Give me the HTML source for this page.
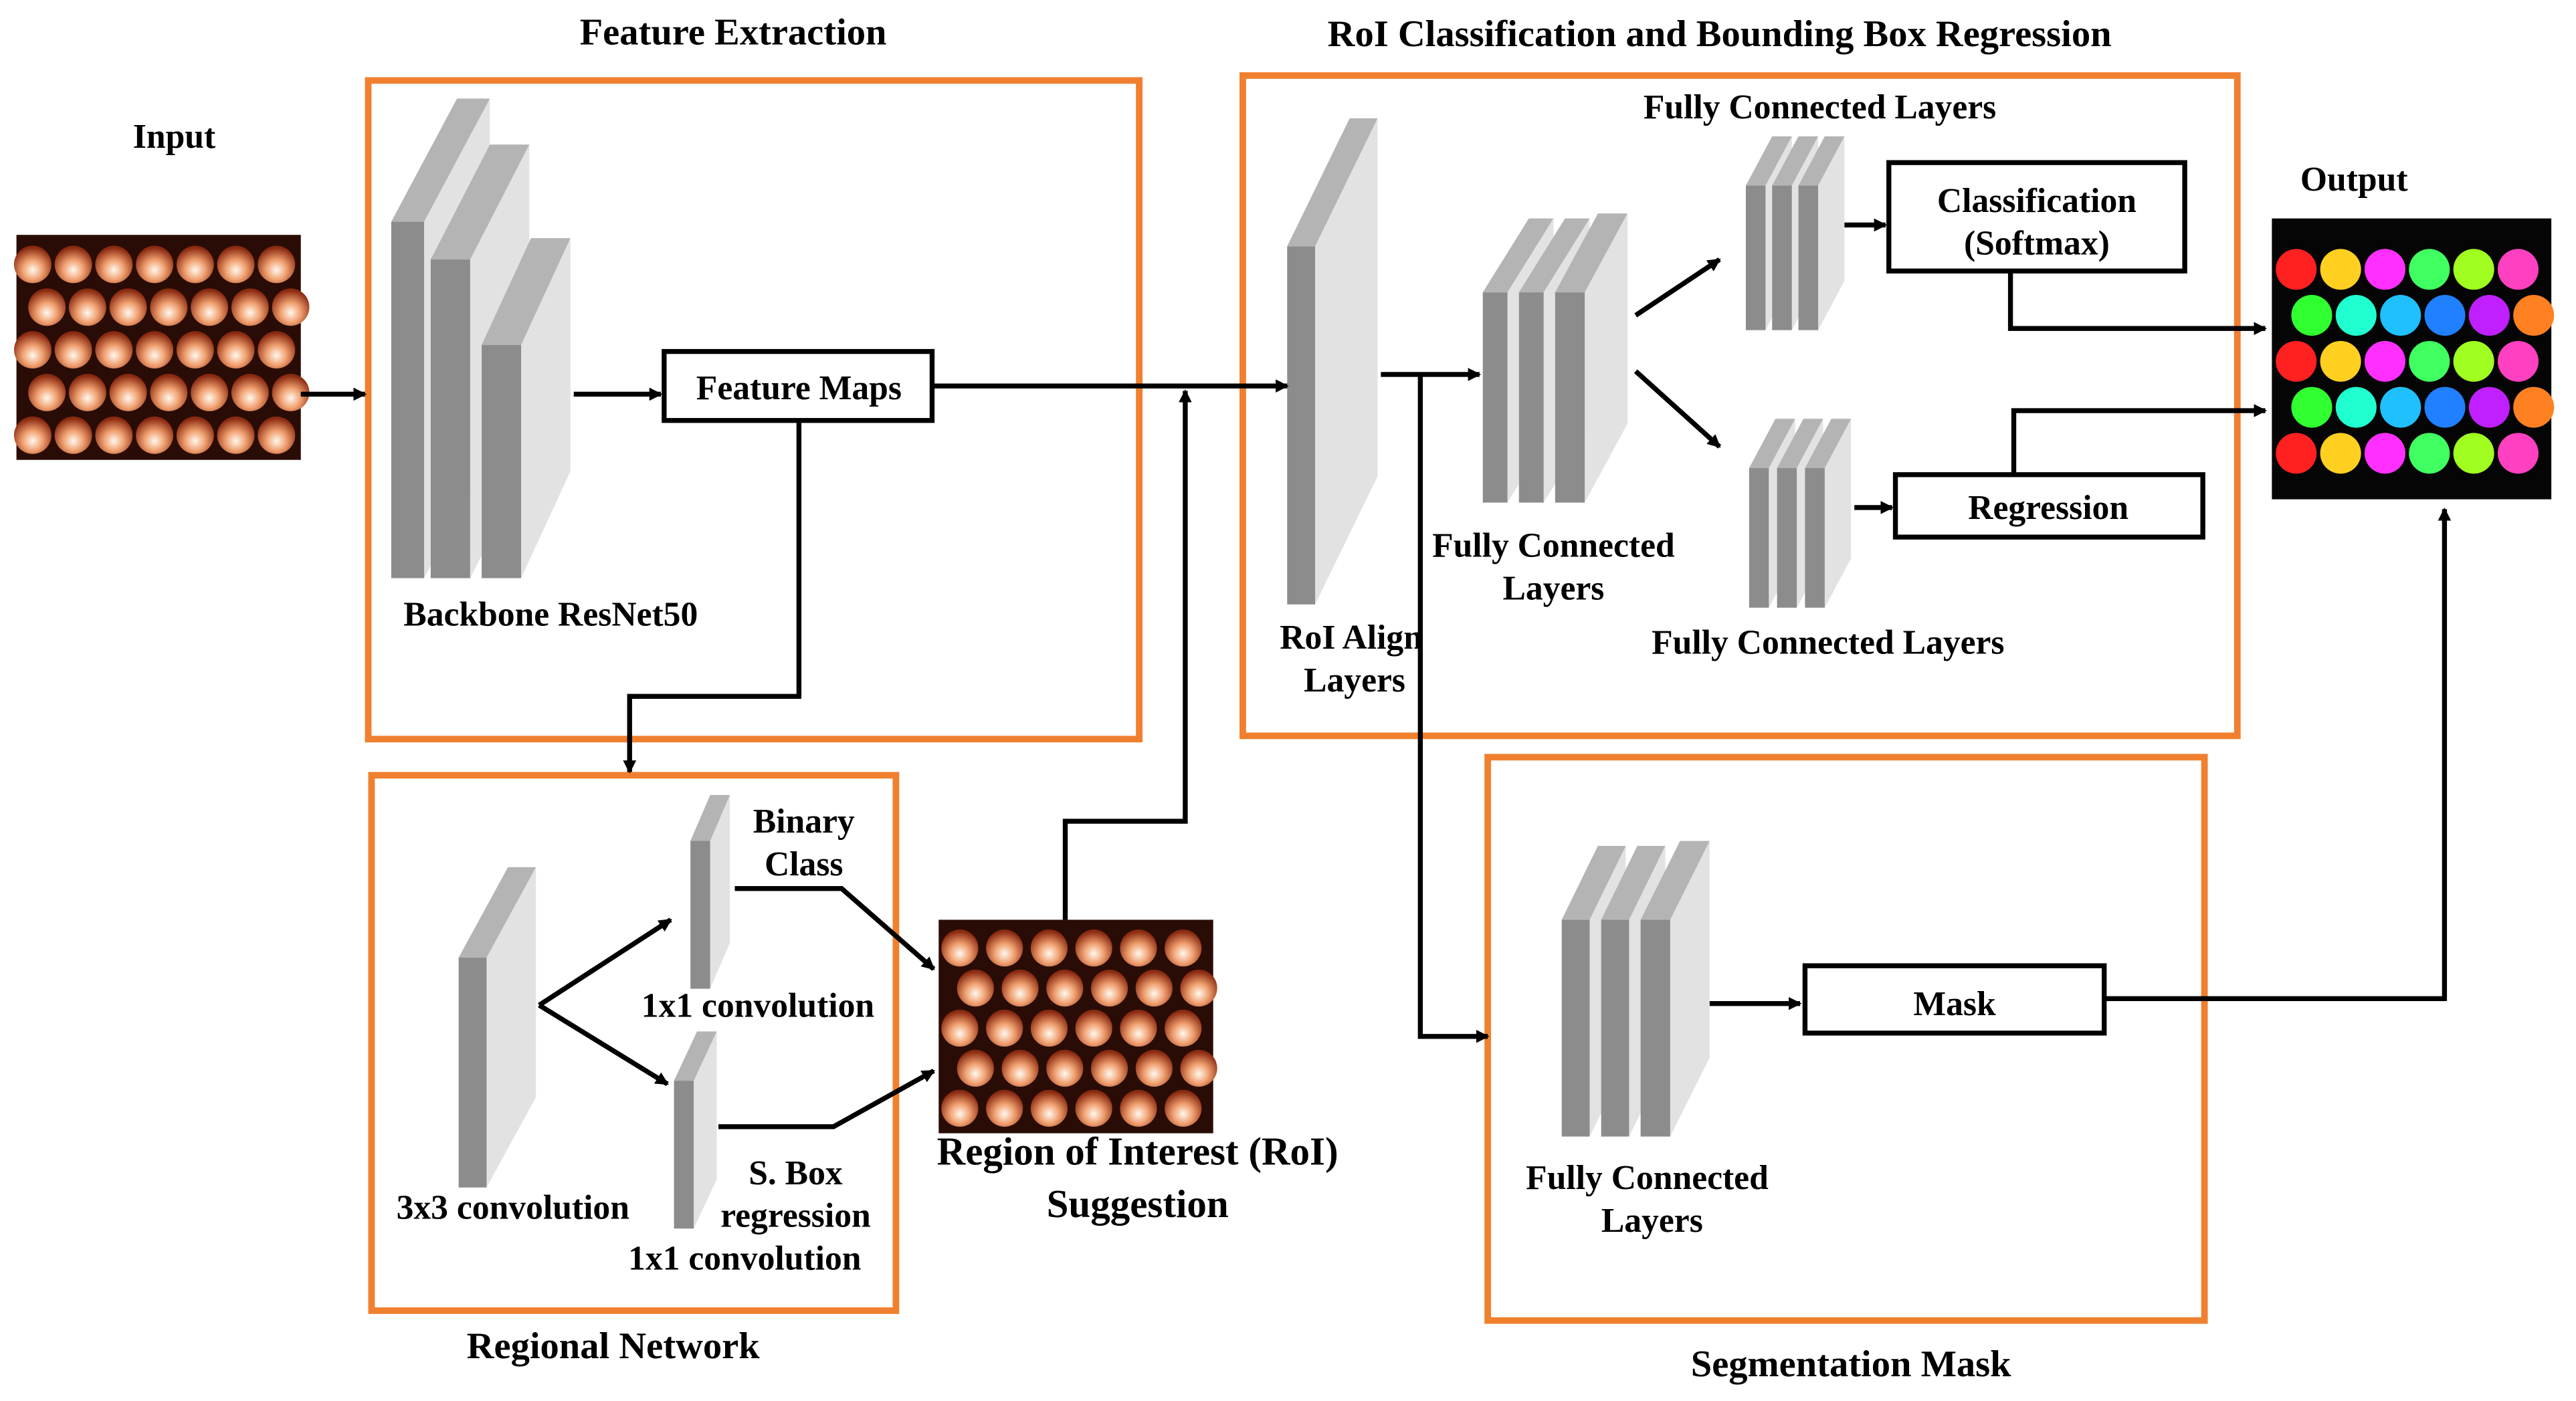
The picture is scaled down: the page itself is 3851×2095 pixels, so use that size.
<!DOCTYPE html>
<html><head><meta charset="utf-8"><style>
html,body{margin:0;padding:0;background:#fff;}
svg{display:block;}
text{font-family:"Liberation Serif",serif;font-weight:bold;fill:#000;}
</style></head><body>
<svg id="s" width="3851" height="2095" viewBox="0 0 1567 853" preserveAspectRatio="none" xmlns="http://www.w3.org/2000/svg">
<defs>
<marker id="a" markerWidth="8" markerHeight="8" refX="7" refY="4" orient="auto" markerUnits="userSpaceOnUse"><path d="M0,0 L8,4 L0,8 z" fill="#000"/></marker>
<radialGradient id="egg" cx="50%" cy="65%" r="60%"><stop offset="0" stop-color="#fff8ee"/><stop offset="0.45" stop-color="#f0a070"/><stop offset="1" stop-color="#8a2a10"/></radialGradient>
</defs>
<g fill="none" stroke="#f0802f" stroke-width="4">
<rect x="224" y="49" width="469" height="401"/>
<rect x="756" y="46" width="605" height="402"/>
<rect x="226" y="472" width="319" height="326"/>
<rect x="905" y="461" width="436" height="343"/>
</g>
<g id="slabs"></g>
<rect x="10" y="143" width="173" height="137" fill="#2a0c06"/><g id="in"></g>
<rect x="571" y="560" width="167" height="130" fill="#2a0c06"/><g id="roi"></g>
<rect x="1382" y="133" width="170" height="171" fill="#050505"/><g id="out"></g>
<g fill="#fff" stroke="#000" stroke-width="3">
<rect x="404" y="214" width="163" height="42"/>
<rect x="1149" y="99" width="180" height="66"/>
<rect x="1153" y="289" width="187" height="38"/>
<rect x="1098" y="588" width="182" height="41"/>
</g>
<g fill="none" stroke="#000" stroke-width="3" marker-end="url(#a)">
<path d="M183,240 H222"/><path d="M349,240 H402"/><path d="M567,235 H783"/>
<path d="M486,256 V424 H383 V470"/><path d="M648,560 V500 H721 V238"/>
<path d="M840,228 H900"/><path d="M864,228 V631 H905"/>
<path d="M995,192 L1046,158"/><path d="M995,226 L1046,272"/>
<path d="M1122,137 H1147"/><path d="M1128,309 H1151"/>
<path d="M1223,165 V200 H1378"/><path d="M1225,289 V250 H1378"/>
<path d="M1040,611 H1095"/><path d="M1280,608 H1487 V310"/>
<path d="M328,612 L408,560"/><path d="M328,612 L406,660"/>
<path d="M447,541 H512 L568,590"/><path d="M437,686 H507 L568,652"/>
</g>
<g font-size="21" text-anchor="middle">
<text x="446" y="27" font-size="23">Feature Extraction</text>
<text x="1046" y="28" font-size="23">RoI Classification and Bounding Box Regression</text>
<text x="106" y="90">Input</text>
<text x="1432" y="116">Output</text>
<text x="486" y="243">Feature Maps</text>
<text x="335" y="381">Backbone ResNet50</text>
<text x="1107" y="72">Fully Connected Layers</text>
<text x="1239" y="129">Classification</text>
<text x="1239" y="155">(Softmax)</text>
<text x="1246" y="316">Regression</text>
<text x="945" y="339">Fully Connected</text>
<text x="945" y="365">Layers</text>
<text x="1112" y="398">Fully Connected Layers</text>
<text x="822" y="395">RoI Align</text>
<text x="824" y="421">Layers</text>
<text x="489" y="507">Binary</text>
<text x="489" y="533">Class</text>
<text x="461" y="619">1x1 convolution</text>
<text x="312" y="742">3x3 convolution</text>
<text x="484" y="721">S. Box</text>
<text x="484" y="747">regression</text>
<text x="453" y="773">1x1 convolution</text>
<text x="692" y="709" font-size="24">Region of Interest (RoI)</text>
<text x="692" y="741" font-size="24">Suggestion</text>
<text x="373" y="827" font-size="23">Regional Network</text>
<text x="1189" y="618">Mask</text>
<text x="1002" y="724">Fully Connected</text>
<text x="1005" y="750">Layers</text>
<text x="1126" y="838" font-size="23">Segmentation Mask</text>
</g>
</svg>
<script>
var NS="http://www.w3.org/2000/svg";
function el(p,t,a){var e=document.createElementNS(NS,t);for(var k in a)e.setAttribute(k,a[k]);p.appendChild(e);return e;}
var g=document.getElementById("slabs");
var S=[[238,135,20,217,40,75],[262,158,24,194,36,70],[293,210,24,142,30,65],[783,150,17,218,38,78],
[902,178,15,128,28,45],[924,178,15,128,28,45],[946,178,18,128,26,48],
[1062,113,12,88,16,30],[1078,113,12,88,16,30],[1094,113,12,88,16,30],
[1064,285,12,85,16,30],[1081,285,12,85,16,30],[1098,285,12,85,16,30],
[950,560,17,132,22,45],[974,560,17,132,22,45],[998,560,18,132,24,48],
[279,583,17,140,30,55],[420,512,12,90,12,28],[410,658,12,90,14,30]];
S.forEach(function(s){var x=s[0],y=s[1],w=s[2],h=s[3],dx=s[4],dy=s[5];
el(g,"polygon",{points:[x+w,y,x+w+dx,y-dy,x+w+dx,y+h-dy,x+w,y+h].join(","),fill:"#e2e2e2"});
el(g,"polygon",{points:[x,y,x+dx,y-dy,x+w+dx,y-dy,x+w,y].join(","),fill:"#b4b4b4"});
el(g,"rect",{x:x,y:y,width:w,height:h,fill:"#8c8c8c"});});
function eggs(id,x0,y0,W,H,cols,rows,colorful){var p=document.getElementById(id);
var cw=W/cols,rh=H/rows,r=Math.min(cw,rh)*0.46;var pal=["#ff2020","#ff40c0","#c020ff","#40ff60","#20c0ff","#ffd020","#30ff30","#ff8020","#a0ff20","#2080ff","#ff30ff","#20ffd0"];var i=0;
for(var j=0;j<rows;j++)for(var c=0;c<cols;c++){var cx=x0+cw*(c+0.5)+((j%2)?cw*0.25:-cw*0.1),cy=y0+rh*(j+0.5);
el(p,"circle",{cx:cx,cy:cy,r:r,fill:colorful?pal[(i++*5)%pal.length]:"url(#egg)"});}}
eggs("in",10,148,173,130,7,5,false);
eggs("roi",573,565,163,122,6,5,false);
eggs("out",1386,150,162,140,6,5,true);
</script>
</body></html>
